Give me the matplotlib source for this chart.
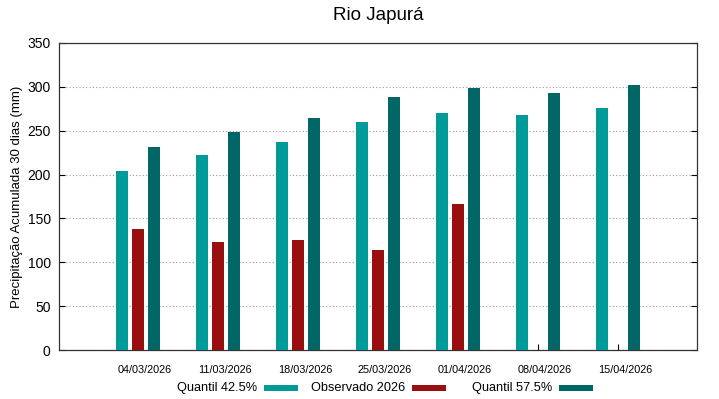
import matplotlib
matplotlib.use("Agg")
import matplotlib.pyplot as plt
from matplotlib.patches import Rectangle
import numpy as np

plt.rcParams['font.family'] = ['Liberation Sans', 'DejaVu Sans']

dates = ["04/03/2026", "11/03/2026", "18/03/2026", "25/03/2026",
         "01/04/2026", "08/04/2026", "15/04/2026"]
q425 = [204, 222, 237, 260, 270, 268, 276]
obs2026 = [138, 123, 125, 114, 166, None, None]
q575 = [232, 248, 265, 288, 299, 293, 302]

c_q425 = "#009a9a"
c_obs = "#990f0f"
c_q575 = "#006666"

fig = plt.figure(figsize=(7.19, 3.99), dpi=100)
ax = fig.add_axes([59/719, 1-350/399, (697-59)/719, (350-43)/399])

x = np.arange(len(dates))
w = 0.16
off = 0.2
ax.bar(x - off, q425, width=w, color=c_q425, zorder=3)
xo = [xi for xi, v in zip(x, obs2026) if v is not None]
vo = [v for v in obs2026 if v is not None]
ax.bar(np.array(xo), vo, width=w, color=c_obs, zorder=3)
ax.bar(x + off, q575, width=w, color=c_q575, zorder=3)

ax.set_xlim(-0.9875, 6.9875)
ax.set_ylim(0, 350)
ax.set_yticks(np.arange(0, 351, 50))
# major ticks at group centres (no labels), labels on minor ticks slightly shifted
ax.set_xticks(x)
ax.set_xticklabels([])
ax.set_xticks(x + 7/80, minor=True)
ax.set_xticklabels(dates, minor=True, fontsize=7.8)
ax.tick_params(axis='y', labelsize=10, direction='in', length=4, right=True, pad=6)
ax.tick_params(axis='x', which='major', direction='in', length=4, top=False)
ax.tick_params(axis='x', which='minor', length=0, pad=11)
ax.yaxis.grid(True, linestyle=(0, (1, 2)), color='#999999', linewidth=0.8, zorder=0)
for s in ax.spines.values():
    s.set_color('#333333')
    s.set_linewidth(0.9)
ax.set_ylabel("Precipitação Acumulada 30 dias (mm)", fontsize=9.5, labelpad=3)

fig.text(378/719, 1-16/399, "Rio Japurá", ha='center', va='center', fontsize=13.5)

# legend
leg = [("Quantil 42.5%", c_q425, 257, 264), ("Observado 2026", c_obs, 405, 412),
       ("Quantil 57.5%", c_q575, 552, 559)]
ly = 1 - 388/399
for label, col, tx, sx in leg:
    fig.text(tx/719, ly, label, ha='right', va='center', fontsize=9.2)
    fig.add_artist(Rectangle((sx/719, ly - 3/399), 34/719, 6/399,
                             transform=fig.transFigure, color=col, lw=0))

fig.savefig("out.png", dpi=100)
